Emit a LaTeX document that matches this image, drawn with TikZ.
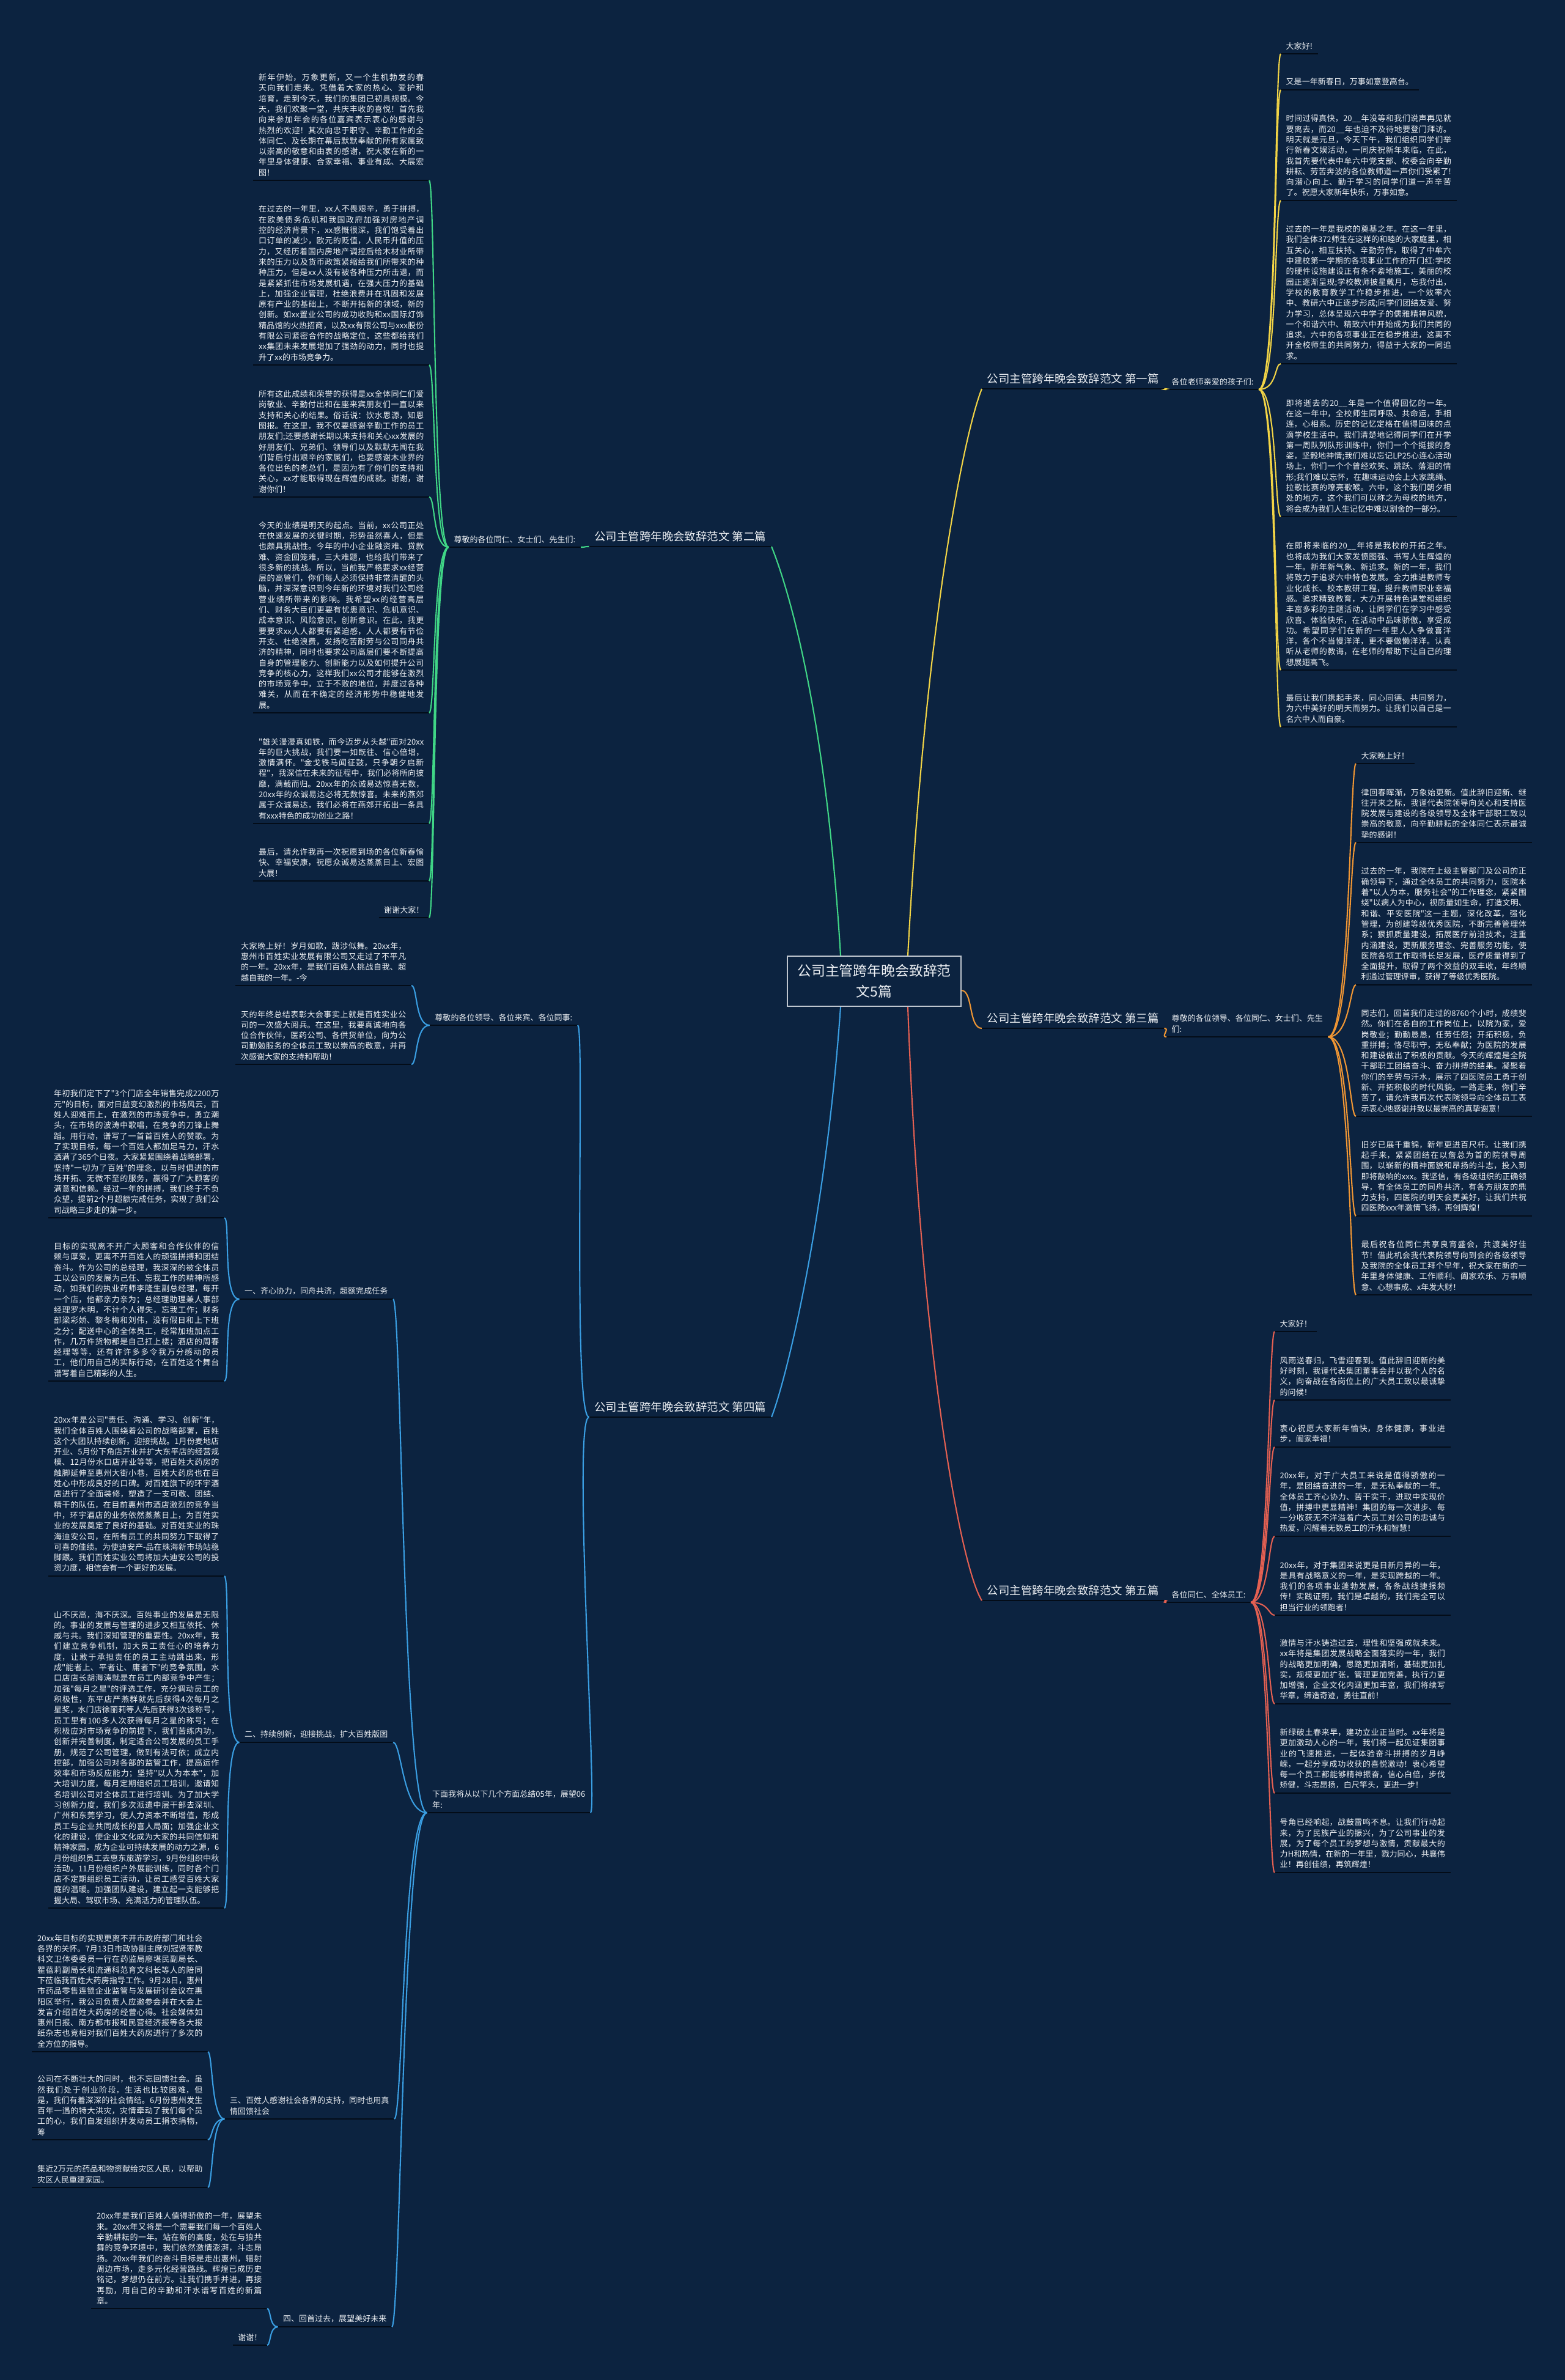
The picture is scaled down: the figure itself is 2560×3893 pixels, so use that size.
\documentclass[tikz,border=0pt]{standalone}
\usepackage{fontspec}
\usetikzlibrary{calc}
\newfontfamily\cjk{Noto Sans CJK SC}
\XeTeXlinebreaklocale "zh"
\XeTeXlinebreakskip=0pt plus 1pt
\definecolor{mapbg}{RGB}{12,35,64}
\definecolor{inkline}{RGB}{3,12,24}
\definecolor{inkwhite}{RGB}{236,239,243}
\definecolor{twigyellow}{RGB}{242,212,70}
\definecolor{twiggreen}{RGB}{64,214,134}
\definecolor{twigorange}{RGB}{240,150,52}
\definecolor{twigblue}{RGB}{58,158,226}
\definecolor{twigred}{RGB}{228,96,82}

\begin{document}
\begin{tikzpicture}[x=0.01cm, y=-0.01cm,
  ul/.style={append after command={(\tikzlastnode.south west) edge[inkline, line width=0.8pt] (\tikzlastnode.south east)}},
  hub/.style={draw=inkwhite!80!mapbg, line width=0.6pt, fill=mapbg, text=inkwhite, align=center,
              minimum width=2.83cm, minimum height=0.82cm, inner sep=0pt,
              font=\cjk\fontsize{6.5pt}{9.8pt}\selectfont},
  topic/.style={ul, text=inkwhite, inner xsep=0.08cm, inner ysep=0.07cm,
                font=\cjk\fontsize{5.25pt}{7pt}\selectfont},
  subtopic/.style={ul, text=inkwhite, inner xsep=0.08cm, inner ysep=0.06cm, align=left,
                   font=\cjk\fontsize{3.7pt}{4.92pt}\selectfont},
  leafline/.style={subtopic},
  leafpara/.style={subtopic, text width=2.7cm, align=justify},
  twig/.style={line width=0.6pt}
]
\fill[mapbg] (0,0) rectangle (2560,3893);
\useasboundingbox (0,0) rectangle (2560,3893);

\node[hub] (cen) at (1430,1605) {公司主管跨年晚会致辞范\\文5篇};

\node[topic, anchor=south west] (h1) at (1606,636) {公司主管跨年晚会致辞范文 第一篇};
\node[topic, anchor=south east] (h2) at (1262,894) {公司主管跨年晚会致辞范文 第二篇};
\node[topic, anchor=south west] (h3) at (1606,1682) {公司主管跨年晚会致辞范文 第三篇};
\node[topic, anchor=south east] (h4) at (1262,2318) {公司主管跨年晚会致辞范文 第四篇};
\node[topic, anchor=south west] (h5) at (1606,2618) {公司主管跨年晚会致辞范文 第五篇};

\node[subtopic, anchor=south west] (s1) at (1908,637) {各位老师亲爱的孩子们:};
\node[subtopic, anchor=south east] (s2) at (950,895) {尊敬的各位同仁、女士们、先生们:};
\node[subtopic, anchor=south west] (s3) at (1908,1696) {尊敬的各位领导、各位同仁、女士们、先生\\们:};
\node[subtopic, anchor=south east] (s4a) at (945,1677) {尊敬的各位领导、各位来宾、各位同事:};
\node[subtopic, anchor=south east] (s4b) at (966,2965) {下面我将从以下几个方面总结05年，展望06\\年:};
\node[subtopic, anchor=south west] (s5) at (1908,2621) {各位同仁、全体员工:};

\node[subtopic, anchor=south east] (n1) at (643,2125) {一、齐心协力，同舟共济，超额完成任务};
\node[subtopic, anchor=south east] (n2) at (643,2850) {二、持续创新，迎接挑战，扩大百姓版图};
\node[subtopic, anchor=south east] (n3) at (645,3466) {三、百姓人感谢社会各界的支持，同时也用真\\情回馈社会};
\node[subtopic, anchor=south east] (n4) at (641,3806) {四、回首过去，展望美好未来};

\node[leafline, anchor=south west] (l1a) at (2095,88) {大家好!};
\node[leafline, anchor=south west] (l1b) at (2095,147) {又是一年新春日，万事如意登高台。};
\node[leafpara, anchor=south west] (l1c) at (2095,328) {时间过得真快，20\_\_年没等和我们说声再见就要离去，而20\_\_年也迫不及待地要登门拜访。明天就是元旦，今天下午，我们组织同学们举行新春文娱活动，一同庆祝新年来临，在此，我首先要代表中牟六中党支部、校委会向辛勤耕耘、劳苦奔波的各位教师道一声你们受累了!向潜心向上、勤于学习的同学们道一声辛苦了。祝愿大家新年快乐，万事如意。};
\node[leafpara, anchor=south west] (l1d) at (2095,595) {过去的一年是我校的奠基之年。在这一年里，我们全体372师生在这样的和睦的大家庭里，相互关心，相互扶持、辛勤劳作，取得了中牟六中建校第一学期的各项事业工作的开门红:学校的硬件设施建设正有条不紊地施工，美丽的校园正逐渐呈现;学校教师披星戴月，忘我付出，学校的教育教学工作稳步推进，一个效率六中、教研六中正逐步形成;同学们团结友爱、努力学习，总体呈现六中学子的儒雅精神风貌，一个和谐六中、精致六中开始成为我们共同的追求。六中的各项事业正在稳步推进，这离不开全校师生的共同努力，得益于大家的一同追求。};
\node[leafpara, anchor=south west] (l1e) at (2095,845) {即将逝去的20\_\_年是一个值得回忆的一年。在这一年中，全校师生同呼吸、共命运，手相连，心相系。历史的记忆定格在值得回味的点滴学校生活中。我们清楚地记得同学们在开学第一周队列队形训练中，你们一个个挺拔的身姿，坚毅地神情;我们难以忘记LP25心连心活动场上，你们一个个曾经欢笑、跳跃、落泪的情形;我们难以忘怀，在趣味运动会上大家跳绳、拉歌比赛的嘹亮歌喉。六中，这个我们朝夕相处的地方，这个我们可以称之为母校的地方，将会成为我们人生记忆中难以割舍的一部分。};
\node[leafpara, anchor=south west] (l1f) at (2095,1096) {在即将来临的20\_\_年将是我校的开拓之年。也将成为我们大家发愤图强、书写人生辉煌的一年。新年新气象、新追求。新的一年，我们将致力于追求六中特色发展。全力推进教师专业化成长、校本教研工程，提升教师职业幸福感。追求精致教育，大力开展特色课堂和组织丰富多彩的主题活动，让同学们在学习中感受欣喜、体验快乐，在活动中品味骄傲，享受成功。希望同学们在新的一年里人人争做喜洋洋，各个不当慢洋洋，更不要做懒洋洋。认真听从老师的教诲，在老师的帮助下让自己的理想展翅高飞。};
\node[leafpara, anchor=south west] (l1g) at (2095,1189) {最后让我们携起手来，同心同德、共同努力，为六中美好的明天而努力。让我们以自己是一名六中人而自豪。};

\node[leafpara, anchor=south east] (l2a) at (702,295) {新年伊始，万象更新，又一个生机勃发的春天向我们走来。凭借着大家的热心、爱护和培育，走到今天，我们的集团已初具规模。今天，我们欢聚一堂，共庆丰收的喜悦！首先我向来参加年会的各位嘉宾表示衷心的感谢与热烈的欢迎！其次向忠于职守、辛勤工作的全体同仁、及长期在幕后默默奉献的所有家属致以崇高的敬意和由衷的感谢，祝大家在新的一年里身体健康、合家幸福、事业有成、大展宏图！};
\node[leafpara, anchor=south east] (l2b) at (702,597) {在过去的一年里，xx人不畏艰辛，勇于拼搏，在欧美债务危机和我国政府加强对房地产调控的经济背景下，xx感慨很深，我们饱受着出口订单的减少，欧元的贬值，人民币升值的压力，又经历着国内房地产调控后给木材业所带来的压力以及货币政策紧缩给我们所带来的种种压力，但是xx人没有被各种压力所击退，而是紧紧抓住市场发展机遇，在强大压力的基础上，加强企业管理，杜绝浪费并在巩固和发展原有产业的基础上，不断开拓新的领域，新的创新。如xx置业公司的成功收购和xx国际灯饰精品馆的火热招商，以及xx有限公司与xxx股份有限公司紧密合作的战略定位，这些都给我们xx集团未来发展增加了强劲的动力，同时也提升了xx的市场竞争力。};
\node[leafpara, anchor=south east] (l2c) at (702,813) {所有这此成绩和荣誉的获得是xx全体同仁们爱岗敬业、辛勤付出和在座来宾朋友们一直以来支持和关心的结果。俗话说：饮水思源，知恩图报。在这里，我不仅要感谢辛勤工作的员工朋友们;还要感谢长期以来支持和关心xx发展的好朋友们、兄弟们、领导们以及默默无闻在我们背后付出艰辛的家属们，也要感谢木业界的各位出色的老总们，是因为有了你们的支持和关心，xx才能取得现在辉煌的成就。谢谢，谢谢你们！};
\node[leafpara, anchor=south east] (l2d) at (702,1166) {今天的业绩是明天的起点。当前，xx公司正处在快速发展的关键时期，形势虽然喜人，但是也颇具挑战性。今年的中小企业融资难、贷款难、资金回笼难，三大难题，也给我们带来了很多新的挑战。所以，当前我严格要求xx经营层的高管们，你们每人必须保持非常清醒的头脑，并深深意识到今年新的环境对我们公司经营业绩所带来的影响。我希望xx的经营高层们、财务大臣们更要有忧患意识、危机意识、成本意识、风险意识，创新意识。在此，我更要要求xx人人都要有紧迫感，人人都要有节俭开支、杜绝浪费，发扬吃苦耐劳与公司同舟共济的精神，同时也要求公司高层们要不断提高自身的管理能力、创新能力以及如何提升公司竞争的核心力，这样我们xx公司才能够在激烈的市场竞争中，立于不败的地位，并度过各种难关，从而在不确定的经济形势中稳健地发展。};
\node[leafpara, anchor=south east] (l2e) at (702,1347) {"雄关漫漫真如铁，而今迈步从头越"面对20xx年的巨大挑战，我们要一如既往、信心倍增，激情满怀。"金戈铁马闻征鼓，只争朝夕启新程"，我深信在未来的征程中，我们必将所向披靡，满载而归。20xx年的众诚易达惊喜无数，20xx年的众诚易达必将无数惊喜。未来的燕郊属于众诚易达，我们必将在燕郊开拓出一条具有xxx特色的成功创业之路！};
\node[leafpara, anchor=south east] (l2f) at (702,1441) {最后，请允许我再一次祝愿到场的各位新春愉快、幸福安康，祝愿众诚易达蒸蒸日上、宏图大展！};
\node[leafline, anchor=south east] (l2g) at (702,1501) {谢谢大家！};

\node[leafline, anchor=south west] (l3a) at (2218,1249) {大家晚上好！};
\node[leafpara, anchor=south west] (l3b) at (2218,1378) {律回春晖渐，万象始更新。值此辞旧迎新、继往开来之际，我谨代表院领导向关心和支持医院发展与建设的各级领导及全体干部职工致以崇高的敬意，向辛勤耕耘的全体同仁表示最诚挚的感谢！};
\node[leafpara, anchor=south west] (l3c) at (2218,1611) {过去的一年，我院在上级主管部门及公司的正确领导下，通过全体员工的共同努力，医院本着"以人为本，服务社会"的工作理念，紧紧围绕"以病人为中心，视质量如生命，打造文明、和谐、平安医院"这一主题，深化改革，强化管理，为创建等级优秀医院，不断完善管理体系；狠抓质量建设，拓展医疗前沿技术，注重内涵建设，更新服务理念、完善服务功能，使医院各项工作取得长足发展，医疗质量得到了全面提升，取得了两个效益的双丰收，年终顺利通过管理评审，获得了等级优秀医院。};
\node[leafpara, anchor=south west] (l3d) at (2218,1826) {同志们，回首我们走过的8760个小时，成绩斐然。你们在各自的工作岗位上，以院为家，爱岗敬业；勤勤恳恳，任劳任怨；开拓积极，负重拼搏；恪尽职守，无私奉献；为医院的发展和建设做出了积极的贡献。今天的辉煌是全院干部职工团结奋斗、奋力拼搏的结果。凝聚着你们的辛劳与汗水，展示了四医院员工勇于创新、开拓积极的时代风貌。一路走来，你们辛苦了，请允许我再次代表院领导向全体员工表示衷心地感谢并致以最崇高的真挚谢意！};
\node[leafpara, anchor=south west] (l3e) at (2218,1989) {旧岁已展千重锦，新年更进百尺杆。让我们携起手来，紧紧团结在以詹总为首的院领导周围，以崭新的精神面貌和昂扬的斗志，投入到即将敲响的xxx。我坚信，有各级组织的正确领导，有全体员工的同舟共济，有各方朋友的鼎力支持，四医院的明天会更美好，让我们共祝四医院xxx年激情飞扬，再创辉煌！};
\node[leafpara, anchor=south west] (l3f) at (2218,2118) {最后祝各位同仁共享良宵盛会，共渡美好佳节！借此机会我代表院领导向到会的各级领导及我院的全体员工拜个早年，祝大家在新的一年里身体健康、工作顺利、阖家欢乐、万事顺意、心想事成、x年发大财！};

\node[leafpara, anchor=south east] (l4a) at (673,1612) {大家晚上好！岁月如歌，跋涉似舞。20xx年，惠州市百姓实业发展有限公司又走过了不平凡的一年。20xx年，是我们百姓人挑战自我、超越自我的一年。-今};
\node[leafpara, anchor=south east] (l4b) at (673,1741) {天的年终总结表彰大会事实上就是百姓实业公司的一次盛大阅兵。在这里，我要真诚地向各位合作伙伴，医药公司、各供货单位，向为公司勤勉服务的全体员工致以崇高的敬意，并再次感谢大家的支持和帮助！};
\node[leafpara, anchor=south east] (l4c) at (367,1992) {年初我们定下了"3个门店全年销售完成2200万元"的目标，面对日益变幻激烈的市场风云，百姓人迎难而上，在激烈的市场竞争中，勇立潮头，在市场的波涛中歌唱，在竞争的刀锋上舞蹈。用行动，谱写了一首首百姓人的赞歌。为了实现目标，每一个百姓人都加足马力，汗水洒满了365个日夜。大家紧紧围绕着战略部署，坚持"一切为了百姓"的理念，以与时俱进的市场开拓、无微不至的服务，赢得了广大顾客的满意和信赖。经过一年的拼搏，我们终于不负众望，提前2个月超额完成任务，实现了我们公司战略三步走的第一步。};
\node[leafpara, anchor=south east] (l4d) at (367,2259) {目标的实现离不开广大顾客和合作伙伴的信赖与厚爱，更离不开百姓人的顽强拼搏和团结奋斗。作为公司的总经理，我深深的被全体员工以公司的发展为己任、忘我工作的精神所感动，如我们的执业药师李隆生副总经理，每开一个店，他都亲力亲为；总经理助理兼人事部经理罗木明，不计个人得失，忘我工作；财务部梁彩娇、黎冬梅和刘伟，没有假日和上下班之分；配送中心的全体员工，经常加班加点工作，几万件货物都是自己扛上楼；酒店的周春经理等等，还有许许多多令我万分感动的员工，他们用自己的实际行动，在百姓这个舞台谱写着自己精彩的人生。};
\node[leafpara, anchor=south east] (l4e) at (367,2578) {20xx年是公司"责任、沟通、学习、创新"年，我们全体百姓人围绕着公司的战略部署，百姓这个大团队持续创新，迎接挑战。1月份麦地店开业、5月份下角店开业并扩大东平店的经营规模、12月份水口店开业等等，把百姓大药房的触脚延伸至惠州大街小巷，百姓大药房也在百姓心中形成良好的口碑。对百姓旗下的环宇酒店进行了全面装修，塑造了一支可敬、团结、精干的队伍，在目前惠州市酒店激烈的竞争当中，环宇酒店的业务依然蒸蒸日上，为百姓实业的发展奠定了良好的基础。对百姓实业的珠海迪安公司，在所有员工的共同努力下取得了可喜的佳绩。为使迪安产-品在珠海新市场站稳脚跟。我们百姓实业公司将加大迪安公司的投资力度，相信会有一个更好的发展。};
\node[leafpara, anchor=south east] (l4f) at (367,3121) {山不厌高，海不厌深。百姓事业的发展是无限的。事业的发展与管理的进步又相互依托、休戚与共。我们深知管理的重要性。20xx年，我们建立竞争机制，加大员工责任心的培养力度，让敢于承担责任的员工主动跳出来，形成"能者上、平者让、庸者下"的竞争氛围，水口店店长胡海涛就是在员工内部竞争中产生；加强"每月之星"的评选工作，充分调动员工的积极性，东平店严燕群就先后获得4次每月之星奖，水门店徐丽莉等人先后获得3次该称号，员工里有100多人次获得每月之星的称号；在积极应对市场竞争的前提下，我们苦练内功，创新并完善制度，制定适合公司发展的员工手册，规范了公司管理，做到有法可依；成立内控部，加强公司对各部的监管工作，提高运作效率和市场反应能力；坚持"以人为本本"，加大培训力度，每月定期组织员工培训，邀请知名培训公司对全体员工进行培训。为了加大学习创新力度，我们多次派遣中层干部去深圳、广州和东莞学习，使人力资本不断增值，形成员工与企业共同成长的喜人局面；加强企业文化的建设，使企业文化成为大家的共同信仰和精神家园，成为企业可持续发展的动力之源，6月份组织员工去惠东旅游学习，9月份组织中秋活动，11月份组织户外展能训练，同时各个门店不定期组织员工活动，让员工感受百姓大家庭的温暖。加强团队建设，建立起一支能够把握大局、驾驭市场、充满活力的管理队伍。};
\node[leafpara, anchor=south east] (l4g) at (340,3356) {20xx年目标的实现更离不开市政府部门和社会各界的关怀。7月13日市政协副主席刘冠贤率教科文卫体委委员一行在药监局廖堪民副局长、瞿蓓莉副局长和流通科范育文科长等人的陪同下莅临我百姓大药房指导工作。9月28日，惠州市药品零售连锁企业监管与发展研讨会议在惠阳区举行，我公司负责人应邀参会并在大会上发言介绍百姓大药房的经营心得。社会媒体如惠州日报、南方都市报和民营经济报等各大报纸杂志也竞相对我们百姓大药房进行了多次的全方位的报导。};
\node[leafpara, anchor=south east] (l4h) at (340,3500) {公司在不断壮大的同时，也不忘回馈社会。虽然我们处于创业阶段，生活也比较困难，但是，我们有着深深的社会情结。6月份惠州发生百年一遇的特大洪灾，灾情牵动了我们每个员工的心，我们自发组织并发动员工捐衣捐物，筹};
\node[leafpara, anchor=south east] (l4i) at (340,3578) {集近2万元的药品和物资献给灾区人民，以帮助灾区人民重建家园。};
\node[leafpara, anchor=south east] (l4j) at (437,3776) {20xx年是我们百姓人值得骄傲的一年，展望未来。20xx年又将是一个需要我们每一个百姓人辛勤耕耘的一年。站在新的高度，处在与狼共舞的竞争环境中，我们依然激情澎湃，斗志昂扬。20xx年我们的奋斗目标是走出惠州，辐射周边市场，走多元化经营路线。辉煌已成历史铭记，梦想仍在前方。让我们携手并进，再接再励，用自己的辛勤和汗水谱写百姓的新篇章。};
\node[leafline, anchor=south east] (l4k) at (437,3836) {谢谢！};

\node[leafline, anchor=south west] (l5a) at (2085,2178) {大家好！};
\node[leafpara, anchor=south west] (l5b) at (2085,2290) {风雨送春归，飞雪迎春到。值此辞旧迎新的美好时刻，我谨代表集团董事会并以我个人的名义，向奋战在各岗位上的广大员工致以最诚挚的问候！};
\node[leafpara, anchor=south west] (l5c) at (2085,2367) {衷心祝愿大家新年愉快，身体健康，事业进步，阖家幸福！};
\node[leafpara, anchor=south west] (l5d) at (2085,2513) {20xx年，对于广大员工来说是值得骄傲的一年，是团结奋进的一年，是无私奉献的一年。全体员工齐心协力、苦干实干，进取中实现价值，拼搏中更显精神！集团的每一次进步、每一分收获无不洋溢着广大员工对公司的忠诚与热爱，闪耀着无数员工的汗水和智慧！};
\node[leafpara, anchor=south west] (l5e) at (2085,2642) {20xx年，对于集团来说更是日新月异的一年，是具有战略意义的一年，是实现跨越的一年。我们的各项事业蓬勃发展，各条战线捷报频传！实践证明，我们是卓越的，我们完全可以担当行业的领跑者！};
\node[leafpara, anchor=south west] (l5f) at (2085,2787) {激情与汗水铸造过去，理性和坚强成就未来。xx年将是集团发展战略全面落实的一年，我们的战略更加明确，思路更加清晰，基础更加扎实，规模更加扩张，管理更加完善，执行力更加增强，企业文化内涵更加丰富，我们将续写华章，缔造奇迹，勇往直前！};
\node[leafpara, anchor=south west] (l5g) at (2085,2933) {新绿破土春来早，建功立业正当时。xx年将是更加激动人心的一年，我们将一起见证集团事业的飞速推进，一起体验奋斗拼搏的岁月峥嵘，一起分享成功收获的喜悦激动！衷心希望每一个员工都能够精神振奋，信心白倍，步伐矫健，斗志昂扬，白尺竿头，更进一步！};
\node[leafpara, anchor=south west] (l5h) at (2085,3063) {号角已经响起，战鼓雷鸣不息。让我们行动起来，为了民族产业的振兴，为了公司事业的发展，为了每个员工的梦想与激情，贡献最大的力H和热情，在新的一年里，戮力同心，共襄伟业！再创佳绩，再筑辉煌！};

\draw[twig, twigyellow] ($(cen.north)+(55,0)$) .. controls (1515,1000) and (1580,700) .. (h1.south west);
\draw[twig, twiggreen] ($(cen.north)+(-55,0)$) .. controls (1350,1150) and (1285,950) .. (h2.south east);
\draw[twig, twigorange] ($(cen.east)+(0,15)$) .. controls (1592,1620) and (1584,1682) .. (h3.south west);
\draw[twig, twigblue] ($(cen.south)+(-55,0)$) .. controls (1350,2000) and (1285,2260) .. (h4.south east);
\draw[twig, twigred] ($(cen.south)+(55,0)$) .. controls (1505,2200) and (1570,2560) .. (h5.south west);

\draw[twig, twigyellow] (h1.south east) .. controls +(10,0) and +(-10,0) .. (s1.south west);
\draw[twig, twiggreen] (h2.south west) .. controls +(-10,0) and +(10,0) .. (s2.south east);
\draw[twig, twigorange] (h3.south east) .. controls +(10,0) and +(-10,0) .. (s3.south west);
\draw[twig, twigblue] (h4.south west) .. controls +(-28,0) and +(12,0) .. (s4a.south east);
\draw[twig, twigblue] (h4.south west) .. controls +(-28,0) and +(12,0) .. (s4b.south east);
\draw[twig, twigred] (h5.south east) .. controls +(10,0) and +(-10,0) .. (s5.south west);

\draw[twig, twigyellow] (s1.south east) .. controls +(30,0) and +(-10,0) .. (l1a.south west);
\draw[twig, twigyellow] (s1.south east) .. controls +(30,0) and +(-10,0) .. (l1b.south west);
\draw[twig, twigyellow] (s1.south east) .. controls +(30,0) and +(-10,0) .. (l1c.south west);
\draw[twig, twigyellow] (s1.south east) .. controls +(30,0) and +(-10,0) .. (l1d.south west);
\draw[twig, twigyellow] (s1.south east) .. controls +(30,0) and +(-10,0) .. (l1e.south west);
\draw[twig, twigyellow] (s1.south east) .. controls +(30,0) and +(-10,0) .. (l1f.south west);
\draw[twig, twigyellow] (s1.south east) .. controls +(30,0) and +(-10,0) .. (l1g.south west);

\draw[twig, twiggreen] (s2.south west) .. controls +(-26,0) and +(10,0) .. (l2a.south east);
\draw[twig, twiggreen] (s2.south west) .. controls +(-26,0) and +(10,0) .. (l2b.south east);
\draw[twig, twiggreen] (s2.south west) .. controls +(-26,0) and +(10,0) .. (l2c.south east);
\draw[twig, twiggreen] (s2.south west) .. controls +(-26,0) and +(10,0) .. (l2d.south east);
\draw[twig, twiggreen] (s2.south west) .. controls +(-26,0) and +(10,0) .. (l2e.south east);
\draw[twig, twiggreen] (s2.south west) .. controls +(-26,0) and +(10,0) .. (l2f.south east);
\draw[twig, twiggreen] (s2.south west) .. controls +(-26,0) and +(10,0) .. (l2g.south east);

\draw[twig, twigorange] (s3.south east) .. controls +(36,0) and +(-10,0) .. (l3a.south west);
\draw[twig, twigorange] (s3.south east) .. controls +(36,0) and +(-10,0) .. (l3b.south west);
\draw[twig, twigorange] (s3.south east) .. controls +(36,0) and +(-10,0) .. (l3c.south west);
\draw[twig, twigorange] (s3.south east) .. controls +(36,0) and +(-10,0) .. (l3d.south west);
\draw[twig, twigorange] (s3.south east) .. controls +(36,0) and +(-10,0) .. (l3e.south west);
\draw[twig, twigorange] (s3.south east) .. controls +(36,0) and +(-10,0) .. (l3f.south west);

\draw[twig, twigblue] (s4a.south west) .. controls +(-24,0) and +(10,0) .. (l4a.south east);
\draw[twig, twigblue] (s4a.south west) .. controls +(-24,0) and +(10,0) .. (l4b.south east);
\draw[twig, twigblue] (s4b.south west) .. controls +(-40,0) and +(14,0) .. (n1.south east);
\draw[twig, twigblue] (s4b.south west) .. controls +(-40,0) and +(14,0) .. (n2.south east);
\draw[twig, twigblue] (s4b.south west) .. controls +(-40,0) and +(14,0) .. (n3.south east);
\draw[twig, twigblue] (s4b.south west) .. controls +(-40,0) and +(14,0) .. (n4.south east);
\draw[twig, twigblue] (n1.south west) .. controls +(-28,0) and +(10,0) .. (l4c.south east);
\draw[twig, twigblue] (n1.south west) .. controls +(-28,0) and +(10,0) .. (l4d.south east);
\draw[twig, twigblue] (n2.south west) .. controls +(-28,0) and +(10,0) .. (l4e.south east);
\draw[twig, twigblue] (n2.south west) .. controls +(-28,0) and +(10,0) .. (l4f.south east);
\draw[twig, twigblue] (n3.south west) .. controls +(-22,0) and +(8,0) .. (l4g.south east);
\draw[twig, twigblue] (n3.south west) .. controls +(-22,0) and +(8,0) .. (l4h.south east);
\draw[twig, twigblue] (n3.south west) .. controls +(-22,0) and +(8,0) .. (l4i.south east);
\draw[twig, twigblue] (n4.south west) .. controls +(-14,0) and +(6,0) .. (l4j.south east);
\draw[twig, twigblue] (n4.south west) .. controls +(-14,0) and +(6,0) .. (l4k.south east);

\draw[twig, twigred] (s5.south east) .. controls +(30,0) and +(-10,0) .. (l5a.south west);
\draw[twig, twigred] (s5.south east) .. controls +(30,0) and +(-10,0) .. (l5b.south west);
\draw[twig, twigred] (s5.south east) .. controls +(30,0) and +(-10,0) .. (l5c.south west);
\draw[twig, twigred] (s5.south east) .. controls +(30,0) and +(-10,0) .. (l5d.south west);
\draw[twig, twigred] (s5.south east) .. controls +(30,0) and +(-10,0) .. (l5e.south west);
\draw[twig, twigred] (s5.south east) .. controls +(30,0) and +(-10,0) .. (l5f.south west);
\draw[twig, twigred] (s5.south east) .. controls +(30,0) and +(-10,0) .. (l5g.south west);
\draw[twig, twigred] (s5.south east) .. controls +(30,0) and +(-10,0) .. (l5h.south west);
\end{tikzpicture}
\end{document}
